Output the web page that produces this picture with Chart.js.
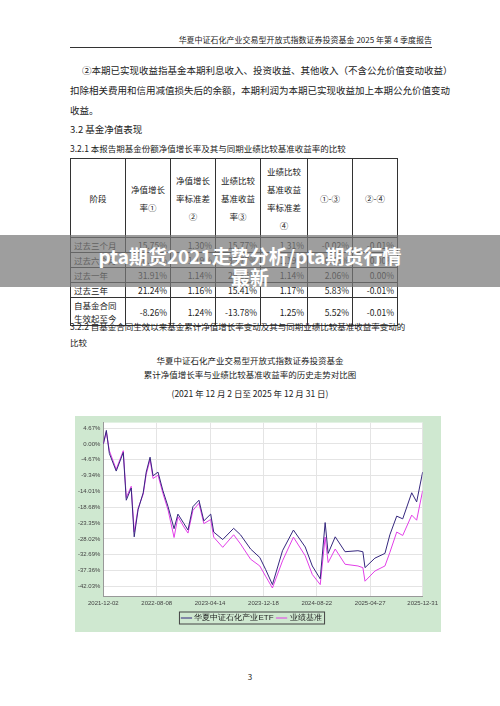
<!DOCTYPE html>
<html><head><meta charset="utf-8">
<script src="https://cdn.jsdelivr.net/npm/chart.js@4"></script>
<style>
body{margin:0;width:500px;height:706px;background:#fff;position:relative;overflow:hidden;font-family:"Noto Sans CJK SC","Noto Sans",sans-serif;color:#222}
.t{position:absolute;font-size:9.5px;white-space:nowrap;line-height:1}
table{position:absolute;left:70px;top:158px;border-collapse:collapse;font-size:8.5px}
td{border:1px solid #333;padding:0 3px;text-align:right;height:14px;line-height:12px}
td:first-child{text-align:left}
th{border:1px solid #333;font-weight:normal;font-size:8.5px;line-height:18px;height:78px;padding:0}
#banner{position:absolute;left:0;top:235px;width:500px;height:52px;background:rgba(120,120,120,.72);color:#fff;font-weight:bold;font-size:19px;text-align:center;line-height:21px;padding-top:10px;box-sizing:border-box}
#wrap{position:absolute;left:75px;top:416px;width:366px;height:216px;background:#cfe8d0}
</style></head><body>
<div class="t" style="right:68px;top:36px;font-size:8px">华夏中证石化产业交易型开放式指数证券投资基金 2025 年第 4 季度报告</div>
<div style="position:absolute;left:70px;top:47px;width:362px;border-top:1px solid #333"></div>
<div class="t" style="left:82px;top:66px">②本期已实现收益指基金本期利息收入、投资收益、其他收入（不含公允价值变动收益）</div>
<div class="t" style="left:70px;top:86px">扣除相关费用和信用减值损失后的余额，本期利润为本期已实现收益加上本期公允价值变动</div>
<div class="t" style="left:70px;top:106px">收益。</div>
<div class="t" style="left:70px;top:125px">3.2  基金净值表现</div>
<div class="t" style="left:70px;top:144px;font-size:8.5px">3.2.1  本报告期基金份额净值增长率及其与同期业绩比较基准收益率的比较</div>
<table>
<tr><th style="width:54px">阶段</th><th style="width:44px">净值增长<br>率①</th><th style="width:44px">净值增长<br>率标准差<br>②</th><th style="width:44px">业绩比较<br>基准收益<br>率③</th><th style="width:46px">业绩比较<br>基准收益<br>率标准差<br>④</th><th style="width:44px">①-③</th><th style="width:44px">②-④</th></tr>
<tr><td>过去三个月</td><td>15.75%</td><td>1.30%</td><td>15.77%</td><td>1.31%</td><td>-0.02%</td><td>-0.01%</td></tr>
<tr><td>过去六个月</td><td>36.50%</td><td>1.19%</td><td>35.77%</td><td>1.19%</td><td>0.73%</td><td>0.00%</td></tr>
<tr><td>过去一年</td><td>31.91%</td><td>1.14%</td><td>29.85%</td><td>1.14%</td><td>2.06%</td><td>0.00%</td></tr>
<tr><td>过去三年</td><td>21.24%</td><td>1.16%</td><td>15.41%</td><td>1.17%</td><td>5.83%</td><td>-0.01%</td></tr>
<tr><td style="line-height:13px;height:27px">自基金合同<br>生效起至今</td><td>-8.26%</td><td>1.24%</td><td>-13.78%</td><td>1.25%</td><td>5.52%</td><td>-0.01%</td></tr>
</table>
<div class="t" style="left:70px;top:322px;font-size:8.5px">3.2.2  自基金合同生效以来基金累计净值增长率变动及其与同期业绩比较基准收益率变动的</div>
<div class="t" style="left:70px;top:338px;font-size:8.5px">比较</div>
<div class="t" style="left:0;width:500px;text-align:center;top:356px;font-size:8.5px">华夏中证石化产业交易型开放式指数证券投资基金</div>
<div class="t" style="left:0;width:500px;text-align:center;top:370px;font-size:8.5px">累计净值增长率与业绩比较基准收益率的历史走势对比图</div>
<div class="t" style="left:0;width:500px;text-align:center;top:389px;font-size:8.5px">(2021 年 12 月 2 日至 2025 年 12 月 31 日)</div>
<div id="wrap"><canvas id="c"></canvas></div>
<div class="t" style="left:0;width:500px;text-align:center;top:673px;font-size:8px">3</div>
<div id="banner">pta期货2021走势分析/pta期货行情<br>最新</div>
<script>
var days = [0, 14, 28, 60, 93, 107, 130, 144, 162, 186, 200, 218, 232, 255, 278, 302, 330, 348, 376, 395, 418, 446, 469, 501, 515, 557, 608, 640, 687, 730, 757, 789, 836, 887, 942, 975, 1012, 1035, 1049, 1082, 1128, 1188, 1211, 1221, 1267, 1314, 1337, 1369, 1397, 1439, 1462, 1490];
var fund = [0, 4, -2.8, -8, -2.5, -16.6, -13, -27.4, -19.4, -14.4, -8.3, -3.9, -9.4, -8.3, -13.8, -18.5, -25, -20.7, -23.5, -25.4, -18.5, -16.6, -22.7, -20.7, -26, -28.2, -24.9, -26.8, -31, -33.5, -37, -41.5, -31.5, -25.4, -30.4, -36, -39.8, -23.2, -32.3, -27.4, -31.8, -31.5, -31.8, -36.5, -33.7, -32.3, -26.8, -21.3, -22.1, -14.4, -17.1, -8.3];
var bench = [0, 3.5, -2, -7.5, -2, -15.8, -12.5, -26, -19, -14.8, -9, -4.6, -10.2, -9.2, -14.6, -19.5, -27.6, -21.5, -24.5, -26.3, -19.6, -17.5, -23.5, -22.3, -27.5, -30.5, -26.8, -29.5, -34, -36, -39, -42.5, -34.5, -27.5, -33, -38.5, -41.5, -27.5, -35, -31, -35.5, -36, -36.5, -40.5, -37.5, -36, -32, -26, -27, -21, -22.5, -13.8];
var xTickDays = [0, 249, 498, 747, 996, 1245, 1490];
var xTickLabels = ['2021-12-02', '2022-08-08', '2023-04-14', '2023-12-18', '2024-08-22', '2025-04-27', '2025-12-31'];
var yTicks = [4.67, 0, -4.67, -9.34, -14.01, -18.68, -23.35, -28.02, -32.69, -37.36, -42.03];

function pts(v) {
    var out = [];
    for (var i = 0; i < days.length; i++) out.push({x: days[i], y: v[i]});
    return out;
}

var bgPlugin = {
    id: 'bg',
    beforeDraw: function (ch) {
        var a = ch.chartArea, c = ch.ctx;
        c.save(); c.fillStyle = '#fff'; c.fillRect(a.left, a.top, a.right - a.left, a.bottom - a.top); c.restore();
    },
    afterDraw: function (ch) {
        var l = ch.legend, c = ch.ctx;
        if (!l || !l.legendHitBoxes.length) return;
        var f = l.legendHitBoxes[0], e = l.legendHitBoxes[l.legendHitBoxes.length - 1];
        c.save(); c.strokeStyle = '#444'; c.lineWidth = 1;
        c.strokeRect(f.left - 3, f.top - 2, e.left + e.width - f.left + 6, f.height + 4);
        c.restore();
    }
};

new Chart(document.getElementById('c'), {
    type: 'line',
    data: {datasets: [
        {label: '华夏中证石化产业ETF', data: pts(fund), borderColor: '#35277e', borderWidth: 1, pointRadius: 0, tension: 0},
        {label: '业绩基准', data: pts(bench), borderColor: '#e23fe8', borderWidth: 1, pointRadius: 0, tension: 0}
    ]},
    options: {
        responsive: true, maintainAspectRatio: false, animation: false,
        layout: {padding: {top: 3, right: 12, left: 0, bottom: 0}},
        plugins: {
            tooltip: {enabled: false},
            legend: {position: 'bottom', labels: {usePointStyle: true, pointStyle: 'line', boxWidth: 8, padding: 4, color: '#222', font: {size: 8}}}
        },
        scales: {
            x: {type: 'linear', min: 0, max: 1490,
                afterBuildTicks: function (ax) { ax.ticks = xTickDays.map(function (d) { return {value: d}; }); },
                ticks: {autoSkip: false, maxRotation: 0, color: '#444', font: {size: 6},
                    callback: function (v) { return xTickLabels[xTickDays.indexOf(v)]; }},
                grid: {color: '#e4e4e4', drawTicks: false}, border: {color: '#999'}},
            y: {min: -45.1, max: 6.3,
                afterBuildTicks: function (ax) { ax.ticks = yTicks.map(function (d) { return {value: d}; }); },
                ticks: {autoSkip: false, color: '#444', font: {size: 6},
                    callback: function (v) { return v.toFixed(2) + '%'; }},
                grid: {color: '#e4e4e4', drawTicks: false}, border: {color: '#999'}}
        }
    },
    plugins: [bgPlugin]
});
</script>
</body></html>
